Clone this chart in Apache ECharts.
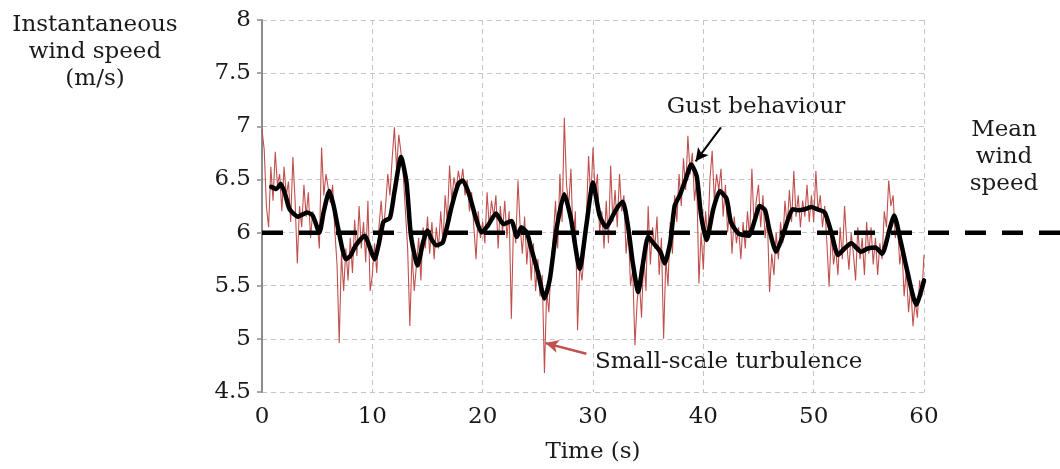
<!DOCTYPE html>
<html>
<head>
<meta charset="utf-8">
<script src="https://cdn.jsdelivr.net/npm/echarts@6/dist/echarts.min.js"></script>
<style>
html,body{margin:0;padding:0;background:#fff;}
#c{width:1060px;height:469px;}
</style>
</head>
<body>
<div id="c"></div>
<script>
// ---- data ----
const SAMPLE_STEP = 0.2; // seconds between instantaneous samples
const instantSpeed = [
 6.97,6.78,6.25,6.05,6.62,6.30,6.76,6.45,6.55,6.20,6.62,6.35,6.48,6.10,6.71,6.30,5.71,6.25,6.05,6.45,6.15,6.38,5.95,6.20,6.08,
 6.10,5.85,6.80,6.35,6.55,6.42,6.28,6.45,6.02,5.70,4.96,5.80,5.45,5.85,5.55,5.95,5.62,6.12,5.78,6.25,5.85,6.10,5.72,6.30,5.45,
 5.60,5.90,5.62,6.05,6.30,6.00,6.25,6.55,6.35,6.70,6.99,6.60,6.92,6.75,6.55,6.20,5.85,5.12,5.80,5.45,5.70,5.95,5.55,6.05,5.85,
 6.15,5.80,6.10,5.75,6.05,5.85,6.20,5.90,6.35,6.10,6.63,6.30,6.52,6.40,6.58,6.45,6.60,6.35,6.50,6.20,6.38,6.05,5.75,6.20,5.95,
 6.10,5.90,6.38,6.05,6.30,6.15,6.35,5.85,6.25,6.00,6.30,5.95,6.20,5.19,6.10,5.90,6.49,6.05,5.80,6.15,5.70,6.00,5.55,5.90,5.45,
 5.75,5.40,5.60,4.68,5.45,5.25,5.70,5.95,6.30,5.85,6.55,6.10,7.08,6.45,6.25,6.60,5.90,6.20,5.08,5.70,5.55,5.80,6.15,6.72,6.30,
 6.80,6.35,6.55,6.00,6.20,5.85,6.30,5.90,6.63,6.10,6.40,6.05,6.55,6.20,6.35,5.80,6.05,5.50,5.65,4.94,5.35,5.55,5.20,5.80,5.45,
 6.25,5.70,6.05,5.85,6.15,5.60,5.95,5.00,5.75,5.50,6.10,5.80,6.35,6.10,6.55,6.25,6.70,6.40,6.91,6.55,6.75,6.30,6.50,5.52,6.00,
 5.65,6.20,5.95,6.50,6.77,6.30,6.55,6.40,6.60,6.15,6.45,6.00,6.25,5.80,6.15,5.90,6.05,5.75,6.10,5.85,6.20,5.95,6.60,6.05,6.30,
 6.45,6.05,6.35,5.95,6.15,5.44,5.80,5.60,6.00,5.75,6.10,5.90,6.30,6.05,6.40,6.10,6.58,6.15,6.35,6.05,6.30,6.15,6.45,6.10,6.35,
 6.10,6.58,6.20,6.35,6.05,6.25,5.90,5.49,6.00,5.70,5.85,5.60,6.05,5.75,6.25,5.90,5.65,6.00,5.80,5.55,6.05,5.75,5.95,5.60,6.10,
 5.80,6.05,5.70,5.95,5.60,5.90,5.75,6.20,6.05,6.49,6.25,6.35,5.95,6.10,5.70,5.85,5.40,5.65,5.25,5.50,5.12,5.35,5.20,5.55,5.40,
 5.79
];
const gustTime = [0.84,1.3,1.7,2.1,2.5,3.26,4.1,4.6,5.2,5.6,6.1,6.5,6.9,7.6,8.0,8.5,9.3,9.9,10.2,10.6,11.0,11.6,12.0,12.6,13.1,13.5,14.1,14.6,15.0,15.35,15.8,16.4,17.2,17.8,18.2,18.8,19.4,19.9,20.5,21.2,21.9,22.6,23.1,23.5,24.0,24.4,25.0,25.6,26.1,26.7,27.4,28.0,28.8,29.4,30.0,30.6,31.2,31.8,32.3,32.7,33.2,33.6,34.1,34.5,35.0,35.4,36.1,36.5,37.0,37.4,37.9,38.4,38.9,39.4,39.8,40.3,40.9,41.5,42.1,42.5,43.2,44.1,44.7,45.1,45.6,46.0,46.6,47.1,47.7,48.1,48.6,49.2,49.8,50.3,51.0,51.6,52.2,52.8,53.4,54.3,54.9,55.6,56.2,56.9,57.3,57.9,58.5,59.3,59.8,60.0];
const gustSpeed = [6.43,6.41,6.46,6.36,6.22,6.15,6.19,6.16,6.00,6.20,6.39,6.25,6.04,5.75,5.78,5.88,5.97,5.82,5.75,5.90,6.10,6.14,6.38,6.71,6.47,5.97,5.69,5.91,6.02,5.94,5.88,5.91,6.25,6.46,6.49,6.35,6.13,6.00,6.07,6.18,6.08,6.11,5.96,6.05,6.00,5.85,5.63,5.38,5.57,6.04,6.36,6.13,5.66,6.07,6.47,6.16,6.05,6.16,6.25,6.29,6.04,5.72,5.44,5.69,5.96,5.91,5.82,5.71,5.91,6.25,6.36,6.50,6.64,6.53,6.16,5.93,6.22,6.39,6.32,6.10,5.99,5.97,6.13,6.25,6.21,6.02,5.82,5.94,6.13,6.22,6.21,6.22,6.24,6.22,6.19,6.00,5.79,5.85,5.90,5.82,5.85,5.86,5.80,6.04,6.16,5.91,5.63,5.32,5.47,5.55];
const meanSpeed = 6.01;
const meanLineTime = [0, 72.4]; // continues past the plot to the right edge
const xTicks = {min: 0, max: 60, interval: 10};
const yTicks = {min: 4.5, max: 8, interval: 0.5};
// annotation arrows [tailTime, tailSpeed, tipTime, tipSpeed]
const gustArrow = [41.6, 6.99, 39.3, 6.67];
const turbArrow = [29.4, 4.86, 25.7, 4.96];

// ---- chart ----
const FONT = '"DejaVu Serif", serif';
const TXT = '#1a1a1a';
const FS = 23;
const chart = echarts.init(document.getElementById('c'), null, {renderer: 'canvas'});
const redData = instantSpeed.map((v, i) => [+(i * SAMPLE_STEP).toFixed(2), v]);
const blackData = gustTime.map((t, i) => [t, gustSpeed[i]]);
const meanData = meanLineTime.map(t => [t, meanSpeed]);

chart.setOption({
  animation: false,
  backgroundColor: '#fff',
  textStyle: {fontFamily: FONT},
  grid: [
    {left: 262, right: 136, top: 20, bottom: 75, containLabel: false},
    // overlay grid reaching the right edge, same time scale, for the mean-speed line
    {left: 262, right: 0, top: 20, bottom: 75, containLabel: false}
  ],
  xAxis: [{
    type: 'value', min: xTicks.min, max: xTicks.max, interval: xTicks.interval,
    name: 'Time (s)', nameLocation: 'middle', nameGap: 49,
    nameTextStyle: {fontFamily: FONT, fontSize: FS, color: TXT},
    axisLine: {show: false}, axisTick: {show: false},
    axisLabel: {fontFamily: FONT, fontSize: FS, color: TXT, margin: 14},
    splitLine: {show: true, lineStyle: {color: '#c4c4c4', type: [5, 4], width: 1}}
  }, {
    gridIndex: 1, type: 'value', min: meanLineTime[0], max: meanLineTime[1], show: false
  }],
  yAxis: [{
    type: 'value', min: yTicks.min, max: yTicks.max, interval: yTicks.interval,
    axisLine: {show: true, lineStyle: {color: '#8c8c8c', width: 2}},
    axisTick: {show: true, length: 5, lineStyle: {color: '#8c8c8c', width: 1.5}},
    axisLabel: {fontFamily: FONT, fontSize: FS, color: TXT, margin: 11},
    splitLine: {show: true, lineStyle: {color: '#c4c4c4', type: [5, 4], width: 1}}
  }, {
    gridIndex: 1, type: 'value', min: yTicks.min, max: yTicks.max, show: false
  }],
  series: [
    {
      type: 'line', data: redData, showSymbol: false, symbol: 'none',
      lineStyle: {color: '#c0504d', width: 1.1}, z: 2
    },
    {
      type: 'line', xAxisIndex: 1, yAxisIndex: 1, data: meanData, showSymbol: false, symbol: 'none',
      lineStyle: {color: '#000', width: 4.5, type: [21, 16], cap: 'butt'}, z: 3
    },
    {
      type: 'line', data: blackData, showSymbol: false, symbol: 'none', smooth: 0.2,
      lineStyle: {color: '#000', width: 4.5, join: 'round', cap: 'round'}, z: 4,
      markLine: {
        silent: true, symbol: ['none', 'arrow'], symbolSize: [10, 13], animation: false,
        label: {show: false},
        data: [
          [{coord: [gustArrow[0], gustArrow[1]], lineStyle: {color: '#000', width: 2, type: 'solid'}},
           {coord: [gustArrow[2], gustArrow[3]]}],
          [{coord: [turbArrow[0], turbArrow[1]], lineStyle: {color: '#c0504d', width: 2.5, type: 'solid'}},
           {coord: [turbArrow[2], turbArrow[3]]}]
        ]
      }
    }
  ],
  graphic: [
    {type: 'text', x: 95, y: 12, style: {text: 'Instantaneous\nwind speed\n(m/s)', font: FS + 'px ' + FONT, fill: TXT, textAlign: 'center', lineHeight: 27}},
    {type: 'text', x: 756, y: 107, style: {text: 'Gust behaviour', font: FS + 'px ' + FONT, fill: TXT, textAlign: 'center', textVerticalAlign: 'middle'}},
    {type: 'text', x: 595, y: 362, style: {text: 'Small-scale turbulence', font: FS + 'px ' + FONT, fill: TXT, textAlign: 'left', textVerticalAlign: 'middle'}},
    {type: 'text', x: 1004, y: 117, style: {text: 'Mean\nwind\nspeed', font: FS + 'px ' + FONT, fill: TXT, textAlign: 'center', lineHeight: 27}}
  ]
});
</script>
</body>
</html>
